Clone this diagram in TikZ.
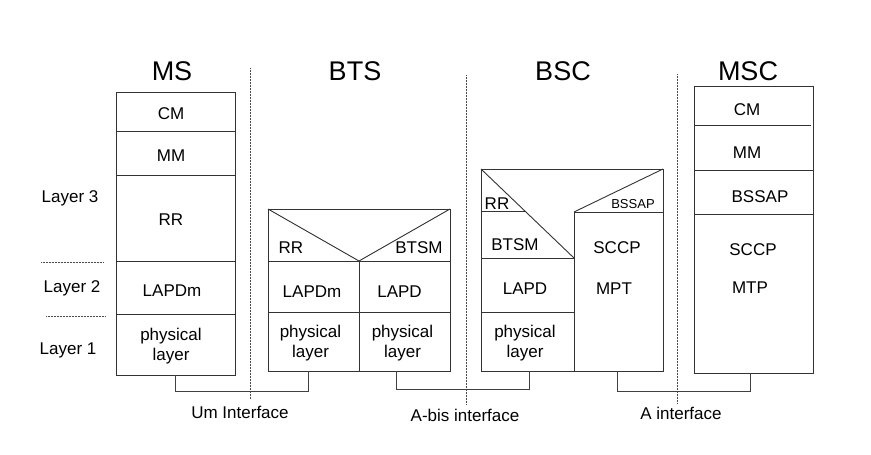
\documentclass[tikz,border=0pt]{standalone}
\usepackage{fontspec}
\setmainfont{Liberation Sans}
\begin{document}
\begin{tikzpicture}[x=1pt,y=-1pt,
  box/.style={draw=black!80, line width=0.9pt, inner sep=0pt, outer sep=0pt},
  sep/.style={draw=black!80, line width=0.9pt},
  lbl/.style={font=\fontsize{17}{20}\selectfont, inner sep=0pt, text height=12.2pt, text depth=0pt},
  lbltwo/.style={font=\fontsize{17}{20}\selectfont, inner sep=0pt, align=center},
  ttl/.style={font=\fontsize{27}{30}\selectfont, inner sep=0pt, text height=19.3pt, text depth=0pt},
  smalllbl/.style={font=\fontsize{13}{15}\selectfont, inner sep=0pt, text height=9.3pt, text depth=0pt},
  ifdiv/.style={draw=black!70, line width=0.5pt, densely dotted},
  bracket/.style={draw=black!75, line width=1pt}]
\useasboundingbox (0,0) rectangle (871,455);
\fill[white] (0,0) rectangle (871,455);

% ---------- titles ----------
\node[ttl] (tMS)  at (172,71) {MS};
\node[ttl] (tBTS) at (355,71) {BTS};
\node[ttl] (tBSC) at (563,71) {BSC};
\node[ttl] (tMSC) at (748,71) {MSC};

% ---------- layer labels ----------
\node[lbl] (l3) at (70,196.5) {Layer 3};
\node[lbl] (l2) at (72,286.5) {Layer 2};
\node[lbl] (l1) at (68,348) {Layer 1};
\coordinate (d1a) at (41,262);  \coordinate (d1b) at (103,262);
\coordinate (d2a) at (46,316);  \coordinate (d2b) at (105,316);
\draw[ifdiv] (d1a) -- (d1b);
\draw[ifdiv] (d2a) -- (d2b);

% ---------- MS ----------
\node[box, minimum width=119pt, minimum height=283pt] (ms) at (175.5,233.5) {};
\draw[sep] (116,131) -- (235,131);
\draw[sep] (116,175) -- (235,175);
\draw[sep] (116,261) -- (235,261);
\draw[sep] (116,314) -- (235,314);
\node[lbl] (msCM) at (171,113.3) {CM};
\node[lbl] (msMM) at (171,155) {MM};
\node[lbl] (msRR) at (171,219.7) {RR};
\node[lbl] (msL2) at (172,290.8) {LAPDm};
\node[lbltwo] (msL1) at (171,346) {physical\\layer};

% ---------- BTS ----------
\node[box, minimum width=182pt, minimum height=162pt] (bts) at (359,290) {};
\draw[sep] (268,209) -- (359,261) -- (450,209);
\draw[sep] (268,261) -- (450,261);
\draw[sep] (268,312) -- (450,312);
\draw[sep] (359,261) -- (359,371);
\node[lbl] (btsRR)   at (291,247) {RR};
\node[lbl] (btsBTSM) at (419,247) {BTSM};
\node[lbl] (btsL2a)  at (312,291) {LAPDm};
\node[lbl] (btsL2b)  at (399.5,291) {LAPD};
\node[lbltwo] (btsL1a) at (310.5,343.5) {physical\\layer};
\node[lbltwo] (btsL1b) at (402.5,343.5) {physical\\layer};

% ---------- BSC ----------
\node[box, minimum width=182pt, minimum height=202pt] (bsc) at (572,270) {};
\draw[sep] (481,169) -- (574,258);
\draw[sep] (481,211) -- (525,211);
\draw[sep] (481,258) -- (574,258);
\draw[sep] (481,312) -- (574,312);
\draw[sep] (574,371) -- (574,212) -- (663,212);
\draw[sep] (574,212) -- (663,169);
\node[lbl] (bscRR)   at (497,203) {RR};
\node[lbl] (bscBTSM) at (515,244) {BTSM};
\node[lbl] (bscLAPD) at (525,288) {LAPD};
\node[lbltwo] (bscL1) at (525,343.5) {physical\\layer};
\node[smalllbl] (bscBSSAP) at (633,204) {BSSAP};
\node[lbl] (bscSCCP) at (617,247) {SCCP};
\node[lbl] (bscMPT)  at (614,288) {MPT};

% ---------- MSC ----------
\node[box, minimum width=119pt, minimum height=287pt] (msc) at (753.5,229.5) {};
\draw[sep] (694,125.5) -- (811,125.5);
\draw[sep] (694,170) -- (813,170);
\draw[sep] (694,214) -- (813,214);
\node[lbl] (mscCM)    at (747,109.3) {CM};
\node[lbl] (mscMM)    at (747,152) {MM};
\node[lbl] (mscBSSAP) at (760,196) {BSSAP};
\node[lbl] (mscSCCP)  at (753,249) {SCCP};
\node[lbl] (mscMTP)   at (750,287.5) {MTP};

% ---------- interface dividers ----------
\coordinate (umTop) at (250.5,68);  \coordinate (umBot) at (250.5,399);
\coordinate (abTop) at (466,75);    \coordinate (abBot) at (466,405);
\coordinate (aTop)  at (677.5,74);  \coordinate (aBot)  at (677.5,403);
\draw[ifdiv] (umTop) -- (umBot);
\draw[ifdiv] (abTop) -- (abBot);
\draw[ifdiv] (aTop) -- (aBot);

% ---------- brackets ----------
\coordinate (pMS)   at (175,375);
\coordinate (pBTSa) at (308,371);
\coordinate (pBTSb) at (396,371);
\coordinate (pBSCa) at (529,371);
\coordinate (pBSCb) at (617,371);
\coordinate (pMSC)  at (750,373);
\draw[bracket] (pMS) -- (175,391) -| (pBTSa);
\draw[bracket] (pBTSb) -- (396,389) -| (pBSCa);
\draw[bracket] (pBSCb) -- (617,391) -| (pMSC);

\node[lbl] (umLbl) at (240,412.5) {Um Interface};
\node[lbl] (abLbl) at (465,415.5) {A-bis interface};
\node[lbl] (aLbl)  at (681,413) {A interface};
\end{tikzpicture}
\end{document}
